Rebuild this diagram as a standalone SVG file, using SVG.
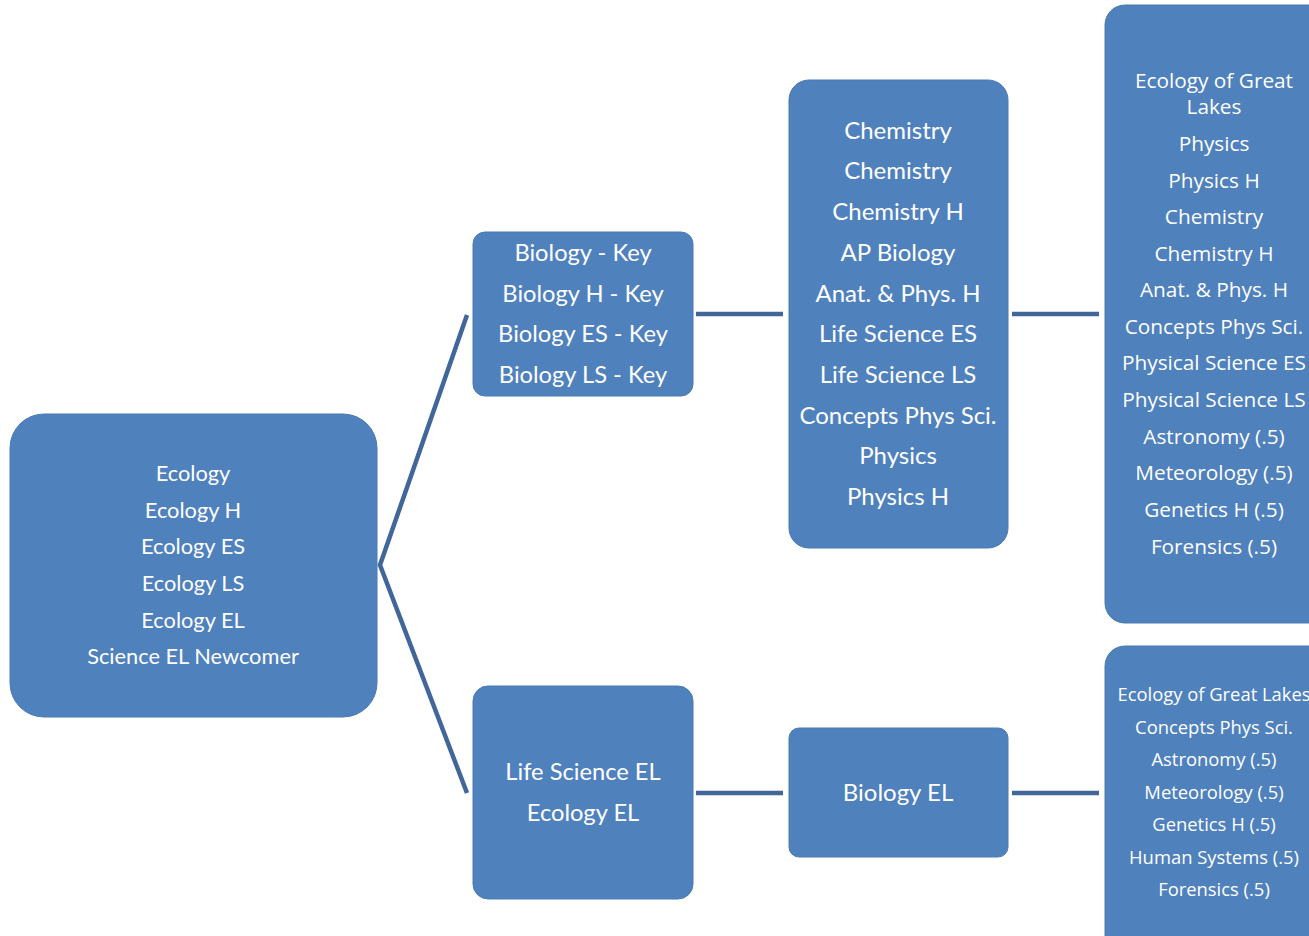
<svg xmlns="http://www.w3.org/2000/svg" width="1309" height="936" viewBox="0 0 1309 936">
<style>
.box{fill:#4F81BD;stroke:#4A7AB3;stroke-width:1}
.c{font-family:Lato,"Open Sans",sans-serif;fill:#fff;text-anchor:middle}
.s{font-family:"Open Sans","Noto Sans",sans-serif;fill:#fff;text-anchor:middle}
.ln{stroke:#41679A;stroke-width:4.5;fill:none}
</style>
<rect width="1309" height="936" fill="#fff"/>
<g id="connectors">
<polyline class="ln" points="467,315 380,565 467,793"/>
<line class="ln" x1="696" y1="314" x2="783" y2="314"/>
<line class="ln" x1="1012" y1="314" x2="1099" y2="314"/>
<line class="ln" x1="696" y1="793" x2="783" y2="793"/>
<line class="ln" x1="1012" y1="793" x2="1099" y2="793"/>
</g>
<g id="root">
<rect class="box" x="10" y="414" width="367" height="303" rx="34"/>
<g class="c" font-size="21.8">
<text x="193" y="481">Ecology</text>
<text x="193" y="518">Ecology H</text>
<text x="193" y="554">Ecology ES</text>
<text x="193" y="591">Ecology LS</text>
<text x="193" y="628">Ecology EL</text>
<text x="193" y="664">Science EL Newcomer</text>
</g>
</g>
<g id="biology-key">
<rect class="box" x="473" y="232" width="220" height="164" rx="12"/>
<g class="c" font-size="23.7">
<text x="583" y="261">Biology - Key</text>
<text x="583" y="302">Biology H - Key</text>
<text x="583" y="342">Biology ES - Key</text>
<text x="583" y="383">Biology LS - Key</text>
</g>
</g>
<g id="chemistry">
<rect class="box" x="789" y="80" width="219" height="468" rx="20"/>
<g class="c" font-size="24">
<text x="898" y="139">Chemistry</text>
<text x="898" y="179">Chemistry</text>
<text x="898" y="220">Chemistry H</text>
<text x="898" y="261">AP Biology</text>
<text x="898" y="302">Anat. &amp; Phys. H</text>
<text x="898" y="342">Life Science ES</text>
<text x="898" y="383">Life Science LS</text>
<text x="898" y="424">Concepts Phys Sci.</text>
<text x="898" y="464">Physics</text>
<text x="898" y="505">Physics H</text>
</g>
</g>
<g id="electives-top">
<rect class="box" x="1105" y="5" width="230" height="618" rx="20"/>
<g class="s" font-size="20.8">
<text x="1214" y="88">Ecology of Great</text>
<text x="1214" y="114">Lakes</text>
<text x="1214" y="151">Physics</text>
<text x="1214" y="188">Physics H</text>
<text x="1214" y="224">Chemistry</text>
<text x="1214" y="261">Chemistry H</text>
<text x="1214" y="297">Anat. &amp; Phys. H</text>
<text x="1214" y="334">Concepts Phys Sci.</text>
<text x="1214" y="370">Physical Science ES</text>
<text x="1214" y="407">Physical Science LS</text>
<text x="1214" y="444">Astronomy (.5)</text>
<text x="1214" y="480">Meteorology (.5)</text>
<text x="1214" y="517">Genetics H (.5)</text>
<text x="1214" y="554">Forensics (.5)</text>
</g>
</g>
<g id="life-science-el">
<rect class="box" x="473" y="686" width="220" height="213" rx="15"/>
<g class="c" font-size="23.7">
<text x="583" y="780">Life Science EL</text>
<text x="583" y="821">Ecology EL</text>
</g>
</g>
<g id="biology-el">
<rect class="box" x="789" y="728" width="219" height="129" rx="10"/>
<text class="c" font-size="24" x="898" y="801">Biology EL</text>
</g>
<g id="electives-bottom">
<rect class="box" x="1105" y="646" width="230" height="310" rx="20"/>
<g class="s" font-size="18.4">
<text x="1214" y="701">Ecology of Great Lakes</text>
<text x="1214" y="734">Concepts Phys Sci.</text>
<text x="1214" y="766">Astronomy (.5)</text>
<text x="1214" y="799">Meteorology (.5)</text>
<text x="1214" y="831">Genetics H (.5)</text>
<text x="1214" y="864">Human Systems (.5)</text>
<text x="1214" y="896">Forensics (.5)</text>
</g>
</g>
</svg>
